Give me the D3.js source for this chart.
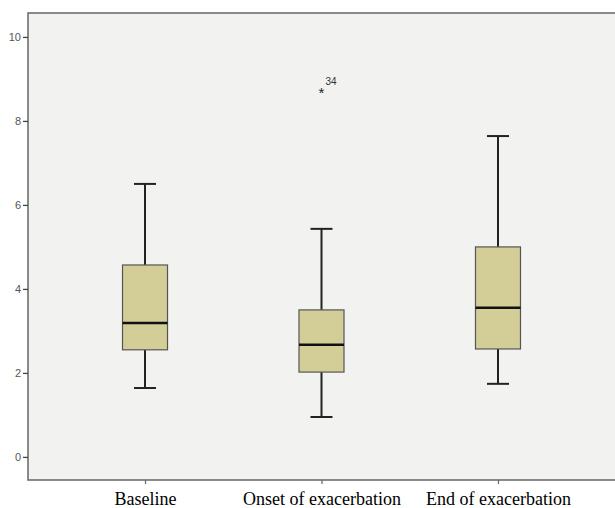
<!DOCTYPE html>
<html>
<head>
<meta charset="utf-8">
<script src="https://cdn.jsdelivr.net/npm/d3@7"></script>
<style>
  body { margin: 0; background: #fff; }
</style>
</head>
<body>
<script>
// box plot values
var categories = ["Baseline", "Onset of exacerbation", "End of exacerbation"];
var whiskerLow = [1.64, 0.95, 1.74];
var q1 = [2.55, 2.02, 2.57];
var median = [3.19, 2.67, 3.55];
var q3 = [4.57, 3.50, 5.00];
var whiskerHigh = [6.50, 5.43, 7.64];
var outliers = [{ cat: "Onset of exacerbation", value: 8.74, label: "34" }];
var yTicks = [0, 2, 4, 6, 8, 10];

var svgWidth = 615, svgHeight = 508;
var margin = { top: 13, right: 0, bottom: 28, left: 28 };
var width = svgWidth - margin.left - margin.right;
var height = svgHeight - margin.top - margin.bottom;

var svg = d3.select("body").append("svg")
    .attr("width", svgWidth)
    .attr("height", svgHeight);

var g = svg.append("g")
    .attr("transform", "translate(" + margin.left + "," + margin.top + ")");

var xscale = d3.scalePoint()
    .domain(categories)
    .range([0, width])
    .padding(0.663);

var yscale = d3.scaleLinear()
    .domain([-0.55, 10.57])
    .range([height, 0]);

// plot background + frame (right edge runs off the picture)
g.append("rect")
    .attr("x", 0).attr("y", 0)
    .attr("width", width + 10).attr("height", height)
    .attr("fill", "#f2f2f1")
    .attr("stroke", "#666")
    .attr("stroke-width", 1.5);

// y axis
var yAxis = g.append("g")
    .call(d3.axisLeft(yscale).tickValues(yTicks).tickSize(5).tickPadding(2));
yAxis.select(".domain").remove();
yAxis.selectAll("line").attr("stroke", "#444").attr("stroke-width", 1.3);
yAxis.selectAll("text")
    .attr("fill", "#555")
    .style("font-family", "Arial, 'Liberation Sans', sans-serif")
    .style("font-size", "11px");

// x axis
var xAxis = g.append("g")
    .attr("transform", "translate(0," + height + ")")
    .call(d3.axisBottom(xscale).tickSize(4).tickPadding(13));
xAxis.select(".domain").remove();
xAxis.selectAll("line").attr("stroke", "#666").attr("stroke-width", 1.2);
xAxis.selectAll("text")
    .attr("y", 25)
    .attr("dy", null)
    .attr("fill", "#000")
    .style("font-family", "'Liberation Serif', 'Times New Roman', serif")
    .style("font-size", "18px");

var boxW = 45, capW = 22;
var idx = d3.range(categories.length);

var boxes = g.selectAll(".box").data(idx).enter().append("g")
    .attr("class", "box")
    .attr("transform", function(i) { return "translate(" + xscale(categories[i]) + ",0)"; });

// whiskers
boxes.append("line")
    .attr("x1", 0).attr("x2", 0)
    .attr("y1", function(i) { return yscale(whiskerHigh[i]); })
    .attr("y2", function(i) { return yscale(q3[i]); })
    .attr("stroke", "#222").attr("stroke-width", 2);
boxes.append("line")
    .attr("x1", 0).attr("x2", 0)
    .attr("y1", function(i) { return yscale(q1[i]); })
    .attr("y2", function(i) { return yscale(whiskerLow[i]); })
    .attr("stroke", "#222").attr("stroke-width", 2);
boxes.append("line")
    .attr("x1", -capW / 2).attr("x2", capW / 2)
    .attr("y1", function(i) { return yscale(whiskerHigh[i]); })
    .attr("y2", function(i) { return yscale(whiskerHigh[i]); })
    .attr("stroke", "#222").attr("stroke-width", 2);
boxes.append("line")
    .attr("x1", -capW / 2).attr("x2", capW / 2)
    .attr("y1", function(i) { return yscale(whiskerLow[i]); })
    .attr("y2", function(i) { return yscale(whiskerLow[i]); })
    .attr("stroke", "#222").attr("stroke-width", 2);

// box
boxes.append("rect")
    .attr("x", -boxW / 2)
    .attr("width", boxW)
    .attr("y", function(i) { return yscale(q3[i]); })
    .attr("height", function(i) { return yscale(q1[i]) - yscale(q3[i]); })
    .attr("fill", "#d3ce98")
    .attr("stroke", "#555")
    .attr("stroke-width", 1.2);

// median
boxes.append("line")
    .attr("x1", -boxW / 2).attr("x2", boxW / 2)
    .attr("y1", function(i) { return yscale(median[i]); })
    .attr("y2", function(i) { return yscale(median[i]); })
    .attr("stroke", "#111").attr("stroke-width", 2.5);

// extreme values
var out = g.selectAll(".outlier").data(outliers).enter().append("g")
    .attr("transform", function(d) { return "translate(" + xscale(d.cat) + "," + yscale(d.value) + ")"; });
out.append("text")
    .attr("text-anchor", "middle")
    .attr("dy", "0.55em")
    .attr("fill", "#222")
    .style("font-family", "Arial, 'Liberation Sans', sans-serif")
    .style("font-size", "15px")
    .text("*");
out.append("text")
    .attr("x", 4)
    .attr("y", -5)
    .attr("fill", "#333")
    .style("font-family", "Arial, 'Liberation Sans', sans-serif")
    .style("font-size", "10px")
    .text(function(d) { return d.label; });
</script>
</body>
</html>
